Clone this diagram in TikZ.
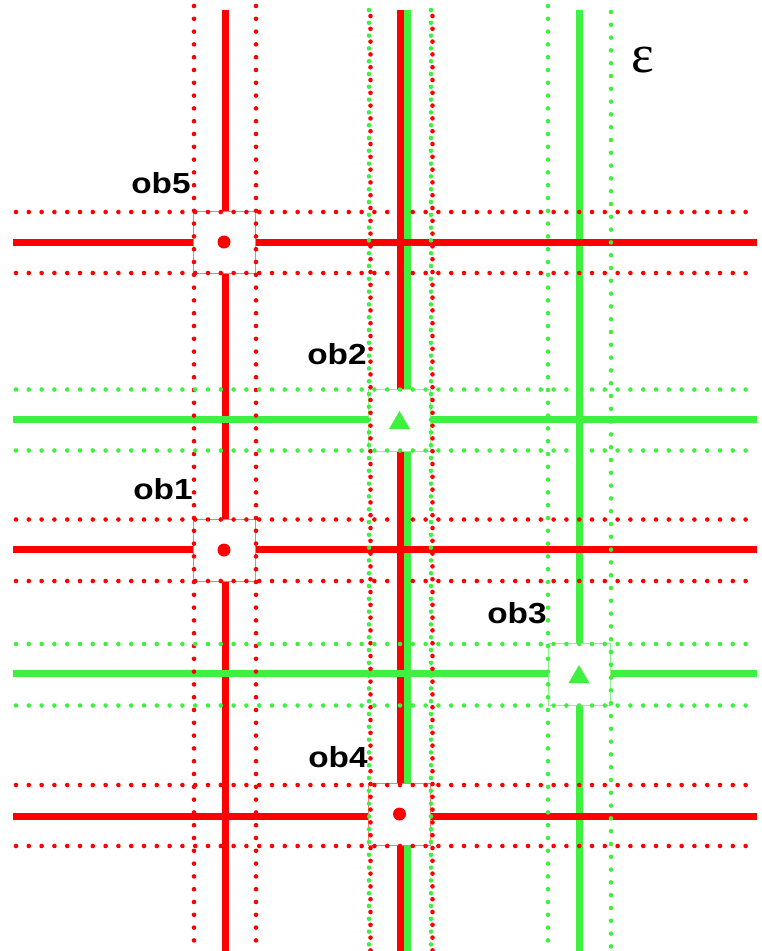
\documentclass[tikz,border=0pt]{standalone}
\usepackage{fontspec}
\newfontfamily\labfont[FakeStretch=1.15]{Liberation Sans}
\newfontfamily\epsfont{Liberation Serif}
\definecolor{myred}{RGB}{255,0,0}
\definecolor{mygreen}{RGB}{64,240,64}
\definecolor{lightred}{RGB}{255,120,120}
\definecolor{lightgreen}{RGB}{140,245,140}
\begin{document}
\begin{tikzpicture}[x=1pt,y=-1pt,
  solidline/.style={line width=7pt},
  dotline/.style={line width=4.6pt,line cap=round,dash pattern=on 0pt off 12.8pt},
  obbox/.style={draw,line width=1pt,fill=white,minimum size=62pt,inner sep=0pt},
  lab/.style={font=\labfont\bfseries\fontsize{29}{29}\selectfont,inner sep=0pt}]
\useasboundingbox (0,0) rectangle (761,951);
% ---- vertical solid lines
\draw[solidline,myred] (225,10) -- (225,951);
\draw[solidline,myred] (400.5,10) -- (400.5,951);
\draw[solidline,mygreen] (407.5,10) -- (407.5,951);
\draw[solidline,mygreen] (579,10) -- (579,951);
% ---- horizontal solid lines
\draw[solidline,myred] (13,242.5) -- (757,242.5);
\draw[solidline,mygreen] (13,419) -- (757,419);
\draw[solidline,myred] (13,549.5) -- (757,549.5);
\draw[solidline,mygreen] (13,673.5) -- (757,673.5);
\draw[solidline,myred] (13,816) -- (757,816);
% ---- boxes
\node[obbox,draw=lightred] (ob5) at (224,242) {};
\node[obbox,draw=lightgreen] (ob2) at (399.5,420) {};
\node[obbox,draw=lightred] (ob1) at (224,550) {};
\node[obbox,draw=lightgreen] (ob3) at (579,674) {};
\node[obbox,draw=lightred] (ob4) at (399.5,814) {};
% ---- vertical dotted lines
\draw[dotline,myred] (194,6) -- (194,951);
\draw[dotline,myred] (256,6) -- (256,951);
\draw[dotline,mygreen] (369,10) -- (369,951);
\draw[dotline,mygreen] (431,10) -- (431,951);
\draw[dotline,myred] (370.5,16) -- (370.5,951);
\draw[dotline,myred] (432.5,16) -- (432.5,951);
\draw[dotline,mygreen] (548,6) -- (548,951);
\draw[dotline,mygreen] (611,12) -- (611,951);
% ---- horizontal dotted lines
\draw[dotline,myred] (16,212) -- (757,212);
\draw[dotline,myred] (16,273) -- (757,273);
\draw[dotline,mygreen] (16,389.5) -- (757,389.5);
\draw[dotline,mygreen] (16,450.5) -- (757,450.5);
\draw[dotline,myred] (16,519.5) -- (757,519.5);
\draw[dotline,myred] (16,581) -- (757,581);
\draw[dotline,mygreen] (16,644) -- (757,644);
\draw[dotline,mygreen] (16,705.5) -- (757,705.5);
\draw[dotline,myred] (16,785) -- (757,785);
\draw[dotline,myred] (16,846) -- (757,846);
% ---- marks
\fill[myred] (ob5.center) circle (6.5);
\fill[myred] (ob1.center) circle (6.5);
\fill[myred] (ob4.center) circle (6.5);
\fill[mygreen] (ob2.center) ++(-10.5,9) -- ++(21,0) -- ++(-10.5,-18) -- cycle;
\fill[mygreen] (ob3.center) ++(-10.5,9) -- ++(21,0) -- ++(-10.5,-18) -- cycle;
% ---- labels
\node[lab] (l5) at (161,183) {ob5};
\node[lab] (l2) at (337,354) {ob2};
\node[lab] (l1) at (163,489) {ob1};
\node[lab] (l3) at (517,613) {ob3};
\node[lab] (l4) at (338,757) {ob4};
\node[font=\epsfont\fontsize{54}{54}\selectfont,inner sep=0pt] (eps) at (643,60) {ε};
\end{tikzpicture}
\end{document}
